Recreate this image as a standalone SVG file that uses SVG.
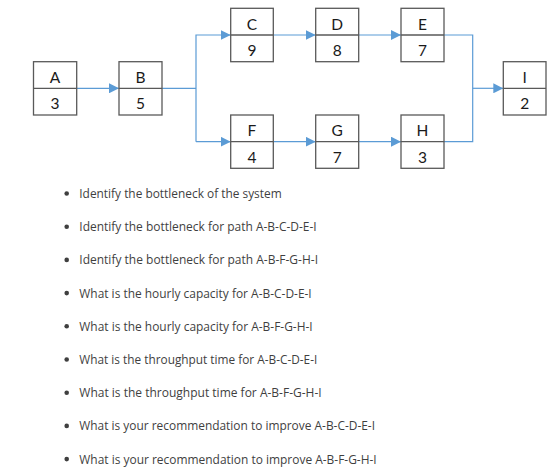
<svg xmlns="http://www.w3.org/2000/svg" width="559" height="469" viewBox="0 0 559 469">
<style>
.box{fill:#fff;stroke:#595959;stroke-width:1.3}
.lbl{font-family:Lato,"Open Sans",sans-serif;font-size:15.5px;fill:#1a1a1a;text-anchor:middle}
.con{fill:none;stroke:#5b9bd5;stroke-width:1.2}
.q{font-family:"Open Sans","Noto Sans",sans-serif;font-size:13px;fill:#3f3f3f}
.dot{fill:#3f3f3f}
</style>
<defs>
<marker id="arr" viewBox="0 0 10 10" refX="10" refY="5" markerWidth="10" markerHeight="10" markerUnits="userSpaceOnUse" orient="auto">
<path d="M0,0 L10,5 L0,10 z" fill="#5b9bd5"/>
</marker>
</defs>
<rect width="559" height="469" fill="#fff"/>
<g id="connectors">
<path class="con" d="M76.7,88.3 H119" marker-end="url(#arr)"/>
<path class="con" d="M162,88.3 H196"/>
<path class="con" d="M196,141.7 V35 H230.7" marker-end="url(#arr)"/>
<path class="con" d="M196,141.7 H230.7" marker-end="url(#arr)"/>
<path class="con" d="M273.3,35 H315.7" marker-end="url(#arr)"/>
<path class="con" d="M358.7,35 H401" marker-end="url(#arr)"/>
<path class="con" d="M273.3,141.7 H315.7" marker-end="url(#arr)"/>
<path class="con" d="M358.7,141.7 H401" marker-end="url(#arr)"/>
<path class="con" d="M444,35 H472.7 V141.7 H444"/>
<path class="con" d="M472.7,88.3 H503.3" marker-end="url(#arr)"/>
</g>
<g id="A"><rect class="box" x="33.5" y="61.7" width="43.2" height="53.3"/><line class="box" x1="33.5" y1="88.3" x2="76.7" y2="88.3"/><text class="lbl" x="55.1" y="82.5">A</text><text class="lbl" x="55.1" y="109">3</text></g>
<g id="B"><rect class="box" x="119" y="61.7" width="43" height="53.3"/><line class="box" x1="119" y1="88.3" x2="162" y2="88.3"/><text class="lbl" x="140.5" y="82.5">B</text><text class="lbl" x="140.5" y="109">5</text></g>
<g id="C"><rect class="box" x="230.7" y="8.3" width="42.6" height="53.4"/><line class="box" x1="230.7" y1="35" x2="273.3" y2="35"/><text class="lbl" x="252" y="29.5">C</text><text class="lbl" x="252" y="56">9</text></g>
<g id="D"><rect class="box" x="315.7" y="8.3" width="43" height="53.4"/><line class="box" x1="315.7" y1="35" x2="358.7" y2="35"/><text class="lbl" x="337.2" y="29.5">D</text><text class="lbl" x="337.2" y="56">8</text></g>
<g id="E"><rect class="box" x="401" y="8.3" width="43" height="53.4"/><line class="box" x1="401" y1="35" x2="444" y2="35"/><text class="lbl" x="422.5" y="29.5">E</text><text class="lbl" x="422.5" y="56">7</text></g>
<g id="F"><rect class="box" x="230.7" y="115" width="42.6" height="53.3"/><line class="box" x1="230.7" y1="141.7" x2="273.3" y2="141.7"/><text class="lbl" x="252" y="136">F</text><text class="lbl" x="252" y="162.5">4</text></g>
<g id="G"><rect class="box" x="315.7" y="115" width="43" height="53.3"/><line class="box" x1="315.7" y1="141.7" x2="358.7" y2="141.7"/><text class="lbl" x="337.2" y="136">G</text><text class="lbl" x="337.2" y="162.5">7</text></g>
<g id="H"><rect class="box" x="401" y="115" width="43" height="53.3"/><line class="box" x1="401" y1="141.7" x2="444" y2="141.7"/><text class="lbl" x="422.5" y="136">H</text><text class="lbl" x="422.5" y="162.5">3</text></g>
<g id="I"><rect class="box" x="503.3" y="61.7" width="42.7" height="53.3"/><line class="box" x1="503.3" y1="88.3" x2="546" y2="88.3"/><text class="lbl" x="524.7" y="82.5">I</text><text class="lbl" x="524.7" y="109">2</text></g>
<g id="questions">
<circle class="dot" cx="66.7" cy="193.5" r="2.3"/><text class="q" x="79.3" y="198" textLength="202.4" lengthAdjust="spacingAndGlyphs">Identify the bottleneck of the system</text>
<circle class="dot" cx="66.7" cy="226.7" r="2.3"/><text class="q" x="79.3" y="231.2" textLength="237.4" lengthAdjust="spacingAndGlyphs">Identify the bottleneck for path A-B-C-D-E-I</text>
<circle class="dot" cx="66.7" cy="259.9" r="2.3"/><text class="q" x="79.3" y="264.4" textLength="238.7" lengthAdjust="spacingAndGlyphs">Identify the bottleneck for path A-B-F-G-H-I</text>
<circle class="dot" cx="66.7" cy="293.1" r="2.3"/><text class="q" x="79.3" y="297.6" textLength="232.4" lengthAdjust="spacingAndGlyphs">What is the hourly capacity for A-B-C-D-E-I</text>
<circle class="dot" cx="66.7" cy="326.3" r="2.3"/><text class="q" x="79.3" y="330.8" textLength="233.4" lengthAdjust="spacingAndGlyphs">What is the hourly capacity for A-B-F-G-H-I</text>
<circle class="dot" cx="66.7" cy="359.5" r="2.3"/><text class="q" x="79.3" y="364" textLength="238" lengthAdjust="spacingAndGlyphs">What is the throughput time for A-B-C-D-E-I</text>
<circle class="dot" cx="66.7" cy="392.7" r="2.3"/><text class="q" x="79.3" y="397.2" textLength="242.4" lengthAdjust="spacingAndGlyphs">What is the throughput time for A-B-F-G-H-I</text>
<circle class="dot" cx="66.7" cy="425.9" r="2.3"/><text class="q" x="79.3" y="430.4" textLength="295.7" lengthAdjust="spacingAndGlyphs">What is your recommendation to improve A-B-C-D-E-I</text>
<circle class="dot" cx="66.7" cy="459.1" r="2.3"/><text class="q" x="79.3" y="463.6" textLength="297.4" lengthAdjust="spacingAndGlyphs">What is your recommendation to improve A-B-F-G-H-I</text>
</g>
</svg>
